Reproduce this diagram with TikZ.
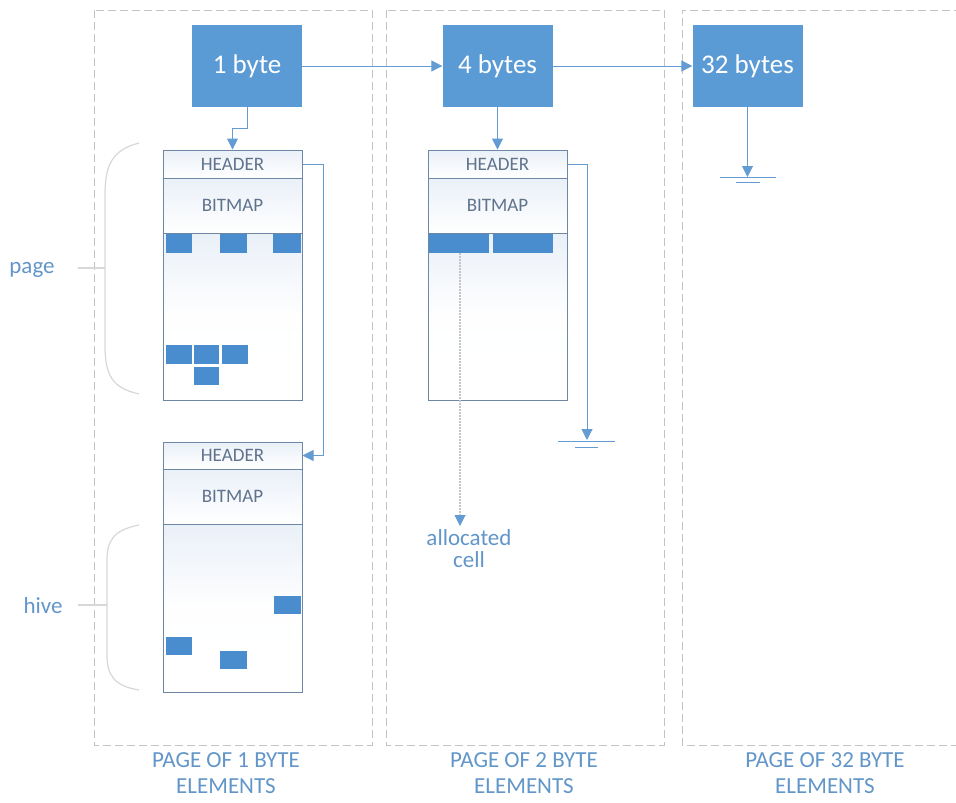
\documentclass[tikz,border=0pt]{standalone}
\usepackage{fontspec}
\setmainfont{Carlito}
\usetikzlibrary{arrows.meta,calc}
\definecolor{boxblue}{RGB}{91,155,213}
\definecolor{cellblue}{RGB}{74,141,207}
\definecolor{linkblue}{RGB}{100,155,210}
\definecolor{labelblue}{RGB}{98,150,200}
\definecolor{frame}{RGB}{110,135,165}
\definecolor{frametext}{RGB}{95,115,140}
\definecolor{panelgray}{RGB}{195,195,195}
\definecolor{bracegray}{RGB}{215,215,215}
\definecolor{tintblue}{RGB}{234,240,248}
\definecolor{dotgray}{RGB}{200,195,200}
\begin{document}
\begin{tikzpicture}[x=1pt,y=-1pt,
  sizebox/.style={fill=boxblue,draw=none,minimum width=110pt,minimum height=82pt,
    text=white,font=\fontsize{27}{32}\selectfont,inner sep=0pt},
  rowbox/.style={draw=frame,line width=1pt,minimum width=139pt,text=frametext,
    font=\fontsize{19}{22}\selectfont,inner sep=0pt,
    top color=tintblue,bottom color=white},
  bodybox/.style={draw=frame,line width=1pt,minimum width=139pt,inner sep=0pt,
    top color=tintblue,bottom color=white,middle color=white!96!tintblue},
  cellbox/.style={fill=cellblue,draw=none,inner sep=0pt},
  conn/.style={draw=linkblue,line width=1pt,-{Triangle[length=11pt,width=11pt]}},
  earth/.style={draw=linkblue,line width=1pt},
  panel/.style={draw=panelgray,line width=1pt,dash pattern=on 8pt off 4pt},
  bracket/.style={draw=bracegray,line width=1.2pt},
  sidelabel/.style={text=labelblue,font=\fontsize{23}{26}\selectfont,inner sep=0pt},
  caption/.style={text=labelblue,font=\fontsize{23}{26}\selectfont,align=center,inner sep=0pt}
]
\useasboundingbox (0,0) rectangle (956,803);

% dashed panels
\draw[panel] (94,10) rectangle (372,745);
\draw[panel] (386,10) rectangle (664,745);
\draw[panel] (962,10) -- (682,10) -- (682,745) -- (962,745);

% panel captions
\node[caption] (cap1) at (226,773) {PAGE OF 1 BYTE\\ELEMENTS};
\node[caption] (cap2) at (524,773) {PAGE OF 2 BYTE\\ELEMENTS};
\node[caption] (cap3) at (825,773) {PAGE OF 32 BYTE\\ELEMENTS};

% size classes
\node[sizebox] (b1) at (247,66) {1 byte};
\node[sizebox] (b4) at (497.5,66) {4 bytes};
\node[sizebox] (b32) at (747.5,66) {32 bytes};

% first page of 1-byte elements
\node[rowbox,minimum height=28pt] (h1) at (232.5,164) {HEADER};
\node[rowbox,minimum height=55pt] (m1) at (232.5,205.5) {BITMAP};
\node[bodybox,minimum height=167pt] (c1) at (232.5,316.5) {};
\node[cellbox,minimum width=26pt,minimum height=19pt] (k1) at (179,243.5) {};
\node[cellbox,minimum width=27pt,minimum height=19pt] (k2) at (233.5,243.5) {};
\node[cellbox,minimum width=28pt,minimum height=19pt] (k3) at (287,243.5) {};
\node[cellbox,minimum width=26pt,minimum height=19pt] (k4) at (179,354.5) {};
\node[cellbox,minimum width=25pt,minimum height=19pt] (k5) at (206.5,354.5) {};
\node[cellbox,minimum width=26pt,minimum height=19pt] (k6) at (235,354.5) {};
\node[cellbox,minimum width=25pt,minimum height=18pt] (k7) at (206.5,376) {};

% second page of 1-byte elements
\node[rowbox,minimum height=27pt] (h2) at (232.5,455.5) {HEADER};
\node[rowbox,minimum height=55pt] (m2) at (232.5,496.5) {BITMAP};
\node[bodybox,minimum height=168pt] (c2) at (232.5,608) {};
\node[cellbox,minimum width=26pt,minimum height=18pt] (q1) at (179,646) {};
\node[cellbox,minimum width=27pt,minimum height=18pt] (q2) at (233.5,660) {};
\node[cellbox,minimum width=27pt,minimum height=18pt] (q3) at (287.5,605) {};

% page of 2-byte elements
\node[rowbox,minimum height=28pt] (h4) at (497.5,164) {HEADER};
\node[rowbox,minimum height=55pt] (m4) at (497.5,205.5) {BITMAP};
\node[bodybox,minimum height=167pt] (c4) at (497.5,316.5) {};
\node[cellbox,minimum width=60pt,minimum height=19pt] (a1) at (459,243.5) {};
\node[cellbox,minimum width=60pt,minimum height=19pt] (a2) at (523,243.5) {};

% brackets with their labels
\node[sidelabel] (lpage) at (32,270) {page};
\draw[bracket] (139,143) .. controls (112,150) and (105,165) .. (105,195)
  -- (105,345) .. controls (105,375) and (112,388) .. (139,394);
\coordinate (pmid) at (105,268);
\draw[bracket] (pmid) -- ++(-27,0);

\node[sidelabel] (lhive) at (43,606) {hive};
\draw[bracket] (139,525) .. controls (114,530) and (107,540) .. (107,560)
  -- (107,655) .. controls (107,675) and (114,686) .. (139,690);
\coordinate (hmid) at (107,605);
\draw[bracket] (hmid) -- ++(-29,0);

% allocated cell label
\node[sidelabel,align=center,font=\fontsize{23}{22}\selectfont] (alloc) at (469,549) {allocated\\cell};

% connectors
\draw[conn] (b1.east) -- (b4.west);
\draw[conn] (b4.east) -- (b32.west);
\draw[conn] (b1.south) -- ++(0,21) -| (h1.north);
\draw[conn] (h1.east) -- ++(21,0) |- (h2.east);
\draw[conn] (b4.south) -- (h4.north);
\coordinate (g4) at (587,440);
\draw[conn] (h4.east) -| (g4);
\coordinate (g32) at (747.5,177);
\draw[conn] (b32.south) -- (g32);
\coordinate (adot) at (460,253);
\coordinate (aend) at (460,526);
\draw[draw=dotgray,line width=1.8pt,dash pattern=on 1.5pt off 1.5pt] (adot) -- ($(aend)+(0,-10)$);
\draw[conn] ($(aend)+(0,-11)$) -- (aend);

% end-of-list markers
\draw[earth] ($(g4)+(-29,1)$) -- ++(57,0);
\draw[earth] ($(g4)+(-12,7)$) -- ++(23,0);
\draw[earth] ($(g32)+(-28,0)$) -- ++(56,0);
\draw[earth] ($(g32)+(-12,5)$) -- ++(24,0);
\end{tikzpicture}
\end{document}
